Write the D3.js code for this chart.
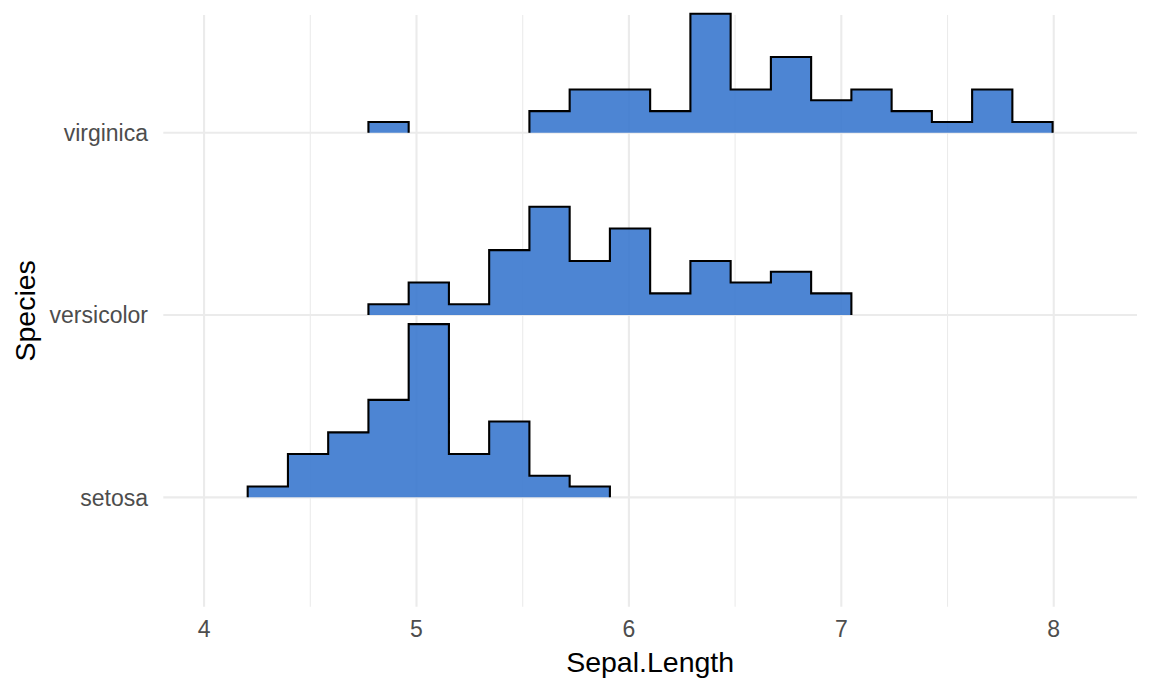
<!DOCTYPE html>
<html lang="en">
    <head>
        <title>Ridgeline histogram</title>
        <meta charset="utf-8">
        <script src="https://cdn.jsdelivr.net/npm/d3@7"></script>
        <style>
            body { margin: 0; background: #fff; }
            text { font-family: "Liberation Sans", Arial, sans-serif; }
            .grid-major { stroke: #ebebeb; stroke-width: 2.1; }
            .grid-minor { stroke: #ebebeb; stroke-width: 1.1; }
            .tick-label { fill: #4d4d4d; font-size: 23px; }
            .axis-title { fill: #000; font-size: 28.5px; }
        </style>
    </head>
    <body>
        <div id="visualization"></div>
        <script>

            // species (bottom to top) and histogram counts, 20 bins of equal width
            var species = ["setosa", "versicolor", "virginica"];
            var binStart = 4.2053, binWidth = 0.18947;
            var setosaCounts     = [1, 4, 6, 9, 16, 4, 7, 2, 1, 0, 0, 0, 0, 0, 0, 0, 0, 0, 0, 0];
            var versicolorCounts = [0, 0, 0, 1, 3, 1, 6, 10, 5, 8, 2, 5, 3, 4, 2, 0, 0, 0, 0, 0];
            var virginicaCounts  = [0, 0, 0, 1, 0, 0, 0, 2, 4, 4, 2, 11, 4, 7, 3, 4, 2, 1, 4, 1];
            var xTicks = [4, 5, 6, 7, 8];
            var xMinorTicks = [4.5, 5.5, 6.5, 7.5];

            var counts = [setosaCounts, versicolorCounts, virginicaCounts];

            var width = 1152, height = 691;
            var panel = {left: 163.3, right: 1137, top: 15, bottom: 606.7};

            var svg = d3.select("#visualization").append("svg")
                        .attr("width", width)
                        .attr("height", height);

            // scales
            var x = d3.scaleLinear().domain([3.808, 8.392]).range([panel.left, panel.right]);
            var y = d3.scaleLinear().domain([0.4, 3.646]).range([panel.bottom, panel.top]);
            var maxCount = d3.max(counts, function(c) { return d3.max(c); });
            var h = function(c) { return c / maxCount * 0.95; };

            // grid
            svg.selectAll(".grid-minor")
               .data(xMinorTicks)
               .enter().append("line")
               .attr("class", "grid-minor")
               .attr("x1", x).attr("x2", x)
               .attr("y1", panel.top).attr("y2", panel.bottom);

            svg.selectAll(".grid-major.v")
               .data(xTicks)
               .enter().append("line")
               .attr("class", "grid-major v")
               .attr("x1", x).attr("x2", x)
               .attr("y1", panel.top).attr("y2", panel.bottom);

            svg.selectAll(".grid-major.h")
               .data(species)
               .enter().append("line")
               .attr("class", "grid-major h")
               .attr("x1", panel.left).attr("x2", panel.right)
               .attr("y1", function(d, i) { return y(i + 1); })
               .attr("y2", function(d, i) { return y(i + 1); });

            // split a count array into runs of non-empty bins
            function runs(c) {
                var out = [], cur = null;
                c.forEach(function(v, k) {
                    if (v > 0) {
                        if (!cur) { cur = []; out.push(cur); }
                        cur.push({k: k, v: v});
                    } else cur = null;
                });
                return out;
            }

            // draw ridges from top to bottom so lower ones sit on top
            for (var g = species.length - 1; g >= 0; g--) {
                var base = g + 1;
                runs(counts[g]).forEach(function(run) {
                    var pts = [];
                    run.forEach(function(b) {
                        var x0 = binStart + b.k * binWidth, x1 = x0 + binWidth;
                        pts.push([x(x0), y(base + h(b.v))]);
                        pts.push([x(x1), y(base + h(b.v))]);
                    });
                    var first = pts[0][0], last = pts[pts.length - 1][0];
                    var outline = [[first, y(base)]].concat(pts).concat([[last, y(base)]]);

                    svg.append("path")
                       .attr("d", d3.line()(outline) + "Z")
                       .attr("fill", "rgb(58,120,206)")
                       .attr("fill-opacity", 0.9)
                       .attr("stroke", "none");

                    svg.append("path")
                       .attr("d", d3.line()(outline))
                       .attr("fill", "none")
                       .attr("stroke", "#000")
                       .attr("stroke-width", 2.1)
                       .attr("stroke-linejoin", "miter");
                });
            }

            // axis labels
            svg.selectAll(".ylab")
               .data(species)
               .enter().append("text")
               .attr("class", "tick-label")
               .attr("x", 148)
               .attr("y", function(d, i) { return y(i + 1); })
               .attr("dy", "0.36em")
               .style("text-anchor", "end")
               .text(function(d) { return d; });

            svg.selectAll(".xlab")
               .data(xTicks)
               .enter().append("text")
               .attr("class", "tick-label")
               .attr("x", x)
               .attr("y", 637)
               .style("text-anchor", "middle")
               .text(function(d) { return d; });

            svg.append("text")
               .attr("class", "axis-title")
               .attr("x", (panel.left + panel.right) / 2)
               .attr("y", 671.5)
               .style("text-anchor", "middle")
               .text("Sepal.Length");

            svg.append("text")
               .attr("class", "axis-title")
               .attr("transform", "translate(35," + ((panel.top + panel.bottom) / 2) + ") rotate(-90)")
               .style("text-anchor", "middle")
               .text("Species");

        </script>
    </body>
</html>
